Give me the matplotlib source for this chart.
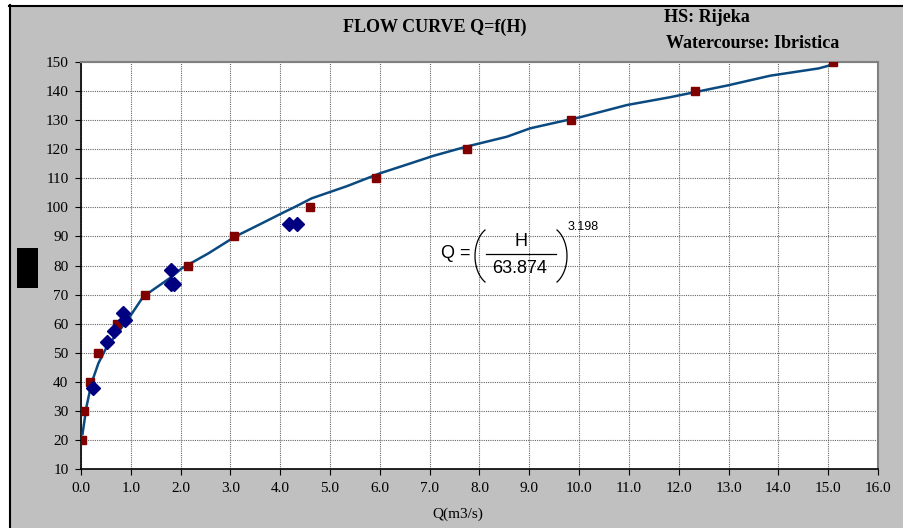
import numpy as np
import matplotlib.pyplot as plt
from matplotlib.lines import Line2D
from matplotlib.patches import Rectangle

W, H = 904, 528

# measured discharges (blue diamonds)
meas_q = [0.25, 0.52, 0.67, 0.84, 0.88, 1.80, 1.87, 1.81, 4.18, 4.34]
meas_h = [38.0, 53.8, 57.6, 63.5, 61.4, 73.6, 73.6, 78.3, 94.4, 94.4]

# rating table (red squares)
tab_h = [20, 30, 40, 50, 60, 70, 80, 90, 100, 110, 120, 130, 140, 150]
tab_q = [0.02, 0.06, 0.18, 0.35, 0.73, 1.29, 2.14, 3.07, 4.60, 5.92, 7.75, 9.84, 12.33, 15.10]

# flow curve
curve_q = [0.03, 0.11, 0.21, 0.35, 0.52, 0.63, 0.98, 1.25, 1.82, 2.02, 2.56, 3.09,
           3.63, 4.00, 4.30, 4.63, 5.34, 6.00, 6.61, 7.07, 7.74, 8.55, 9.02, 9.62,
           10.02, 10.96, 11.83, 12.97, 13.84, 14.81, 15.11]
curve_h = [22.0, 31.4, 39.5, 46.4, 52.1, 54.5, 62.4, 69.3, 76.1, 79.0, 84.2, 89.9,
           94.5, 97.7, 100.2, 103.1, 107.3, 111.7, 115.1, 117.7, 120.9, 124.3, 127.2, 129.5,
           131.0, 135.2, 137.9, 141.9, 145.3, 147.8, 149.2]

x_ticks = np.arange(0, 16.1, 1.0)
y_ticks = np.arange(10, 151, 10)


def fx(px):
    return px / W


def fy(py):
    return 1 - py / H


fig = plt.figure(figsize=(W / 100, H / 100), dpi=100, facecolor='white')

# grey chart area with black edge on left and top
fig.patches.append(Rectangle((fx(10), 0), 1 - fx(10), fy(6), transform=fig.transFigure,
                             facecolor='#c0c0c0', edgecolor='none', zorder=-5))
fig.add_artist(Line2D([fx(9.5), fx(9.5)], [0, fy(5)], color='black', lw=1.5))
fig.add_artist(Line2D([fx(9), 1], [fy(5.5), fy(5.5)], color='black', lw=1.5))

ax = fig.add_axes([fx(81), fy(469), fx(878) - fx(81), fy(62) - fy(469)])
ax.set_facecolor('white')

ax.plot(curve_q, curve_h, color='#0b4a80', lw=1.8, zorder=3)
ax.plot(tab_q, tab_h, ls='none', marker='s', ms=6, color='#800000', zorder=4)
ax.plot(meas_q, meas_h, ls='none', marker='D', ms=7, color='#000080', zorder=5)

ax.set_xlim(0, 16)
ax.set_ylim(10, 150)
ax.set_xticks(x_ticks)
ax.set_xticklabels([f'{v:.1f}' for v in x_ticks])
ax.set_yticks(y_ticks)
ax.grid(True, ls=(0, (1, 1)), color='#666666', lw=0.8)
ax.set_axisbelow(True)

for s in ['top', 'right']:
    ax.spines[s].set_color('#808080')
    ax.spines[s].set_linewidth(1.5)
for s in ['left', 'bottom']:
    ax.spines[s].set_color('black')
    ax.spines[s].set_linewidth(1.2)

ax.tick_params(direction='out', length=4, width=0.8, labelsize=11, pad=5)
for lab in ax.get_xticklabels() + ax.get_yticklabels():
    lab.set_fontfamily('Liberation Serif')

fig.text(fx(458), fy(514), 'Q(m3/s)', ha='center', va='center',
         fontsize=11, family='Liberation Serif')

fig.text(fx(435), fy(27), 'FLOW CURVE Q=f(H)', ha='center', va='center',
         fontsize=13, fontweight='bold', family='Liberation Serif')
fig.text(fx(664), fy(18), 'HS: Rijeka', ha='left', va='center',
         fontsize=13, fontweight='bold', family='Liberation Serif')
fig.text(fx(666), fy(43), 'Watercourse: Ibristica', ha='left', va='center',
         fontsize=13, fontweight='bold', family='Liberation Serif')

# redacted axis title box
fig.patches.append(Rectangle((fx(17), fy(288)), fx(38) - fx(17), fy(248) - fy(288),
                             transform=fig.transFigure, facecolor='black', edgecolor='none'))

# equation Q = (H / 63.874)^3.198
sans = 'Liberation Sans'
fig.text(fx(471), fy(254), 'Q =', ha='right', va='center', fontsize=13, family=sans)
fig.text(fx(521), fy(241), 'H', ha='center', va='center', fontsize=13, family=sans)
fig.text(fx(520), fy(268.5), '63.874', ha='center', va='center', fontsize=13, family=sans)
fig.add_artist(Line2D([fx(486), fx(556)], [fy(254.5), fy(254.5)], color='black', lw=0.9))
t = np.linspace(-np.pi / 3, np.pi / 3, 40)
fig.add_artist(Line2D(fx(495 - 20 * np.cos(t)), fy(256 + 30 * np.sin(t)), color='black', lw=0.9))
fig.add_artist(Line2D(fx(547 + 20 * np.cos(t)), fy(256 + 30 * np.sin(t)), color='black', lw=0.9))
fig.text(fx(568), fy(227), '3.198', ha='left', va='center', fontsize=9, family=sans)

fig.savefig('out.png', dpi=100, facecolor=fig.get_facecolor())
